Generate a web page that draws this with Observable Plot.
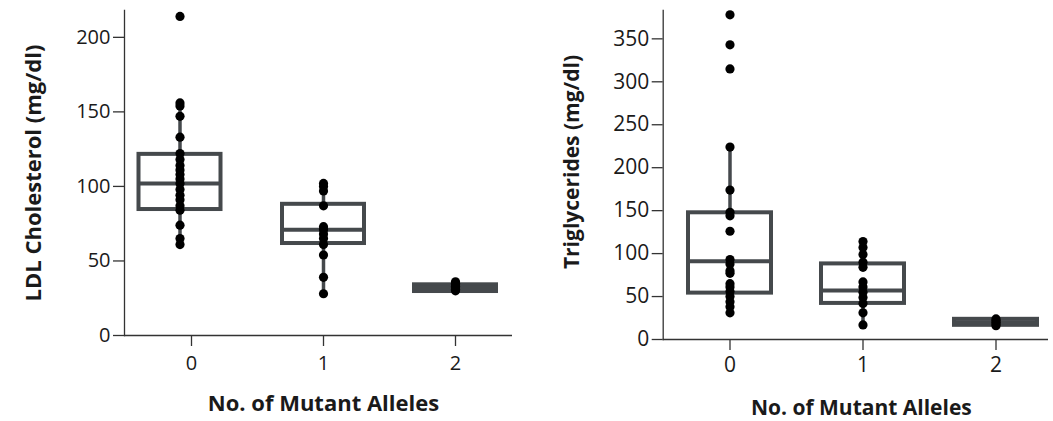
<!DOCTYPE html>
<html><head><meta charset="utf-8">
<script src="https://cdn.jsdelivr.net/npm/d3@7"></script>
<script src="https://cdn.jsdelivr.net/npm/@observablehq/plot@0.6"></script>
<style>
body{margin:0;background:#fff;overflow:hidden;}
#wrap{position:relative;width:1053px;height:421px;overflow:hidden;background:#fff;}
#a{position:absolute;left:0;top:0;}
#b{position:absolute;left:540px;top:0;}
</style></head><body><div id="wrap"><div id="a"></div><div id="b"></div></div>
<script>
// Categories
const alleles = ["0", "1", "2"];

// LDL cholesterol (mg/dl) individual values per group
const ldl0 = [214, 156, 154, 147, 133, 122, 118, 114, 111, 108, 105, 102, 98, 94, 91, 87, 84, 74, 65, 61];
const ldl1 = [102, 100, 97, 87, 73, 71, 68, 65, 61, 54, 39, 28];
const ldl2 = [30, 31, 32, 33, 34, 35, 36];
// LDL box statistics per group
const ldlQ1 = [84.5, 61.7, 29.5];
const ldlMedian = [102, 71, 32];
const ldlQ3 = [121.5, 88, 34];
const ldlWhiskerLo = [61, 28, null];
const ldlWhiskerHi = [156, 102, null];
const ldlTicks = [0, 50, 100, 150, 200];

// Triglycerides (mg/dl) individual values per group
const tg0 = [378, 343, 315, 224, 174, 148, 144, 126, 93, 88, 80, 77, 65, 61, 56, 50, 44, 38, 31];
const tg1 = [114, 107, 99, 90, 84, 67, 61, 55, 49, 42, 31, 17];
const tg2 = [16, 18, 20, 22, 24];
const tgQ1 = [54, 42, 16.5];
const tgMedian = [91, 57, 20];
const tgQ3 = [147.5, 88, 23.5];
const tgWhiskerLo = [31, 17, null];
const tgWhiskerHi = [224, 114, null];
const tgTicks = [0, 50, 100, 150, 200, 250, 300, 350];

const xLabel = "No. of Mutant Alleles";
const ldlLabel = "LDL Cholesterol (mg/dl)";
const tgLabel = "Triglycerides (mg/dl)";

const BOX = "#45494c";
const INK = "#1a1a1a";
const FONT = "'Open Sans', Lato, sans-serif";

function table(groups, q1, med, q3, lo, hi) {
  const pts = alleles.flatMap((g, i) => groups[i].map(v => ({g, v})));
  const boxes = alleles.map((g, i) => ({g, q1: q1[i], med: med[i], q3: q3[i], lo: lo[i], hi: hi[i]}));
  return {pts, boxes};
}

function groupMarks(pts, boxes, inset, dx) {
  const wh = boxes.filter(d => d.lo != null);
  return [
    Plot.ruleX(wh, {x: "g", y1: "lo", y2: "hi", stroke: BOX, strokeWidth: 3.5, dx}),
    Plot.barY(boxes, {x: "g", y1: "q1", y2: "q3", fill: "white", stroke: BOX, strokeWidth: 4, insetLeft: inset, insetRight: inset, dx}),
    Plot.tickY(boxes, {x: "g", y: "med", stroke: BOX, strokeWidth: 4, insetLeft: inset, insetRight: inset, dx}),
    Plot.dot(pts, {x: "g", y: "v", r: 4.6, fill: "black", stroke: "none", dx})
  ];
}

function panel(opts) {
  const {pts, boxes} = opts.data;
  const shifted = opts.shiftGroup;
  const inA = d => d.g === shifted;
  const inB = d => d.g !== shifted;
  return Plot.plot({
    width: opts.width,
    height: 421,
    marginTop: opts.marginTop,
    marginBottom: opts.marginBottom,
    marginLeft: opts.marginLeft,
    marginRight: 0,
    style: {fontFamily: FONT, color: INK, background: "white"},
    x: {domain: alleles, range: opts.xRange, padding: 0},
    y: {domain: opts.yDomain},
    marks: [
      Plot.frame({anchor: "left", stroke: "#333", strokeWidth: 1.3}),
      Plot.ruleY([0], {stroke: "#333", strokeWidth: 1.3}),
      Plot.axisX({tickSize: 11, tickFormat: () => "", label: null, stroke: "#333", strokeWidth: 1.3}),
      Plot.axisY({ticks: opts.ticks, tickSize: 11, tickFormat: () => "", label: null, stroke: "#333", strokeWidth: 1.3}),
      Plot.text(opts.ticks, {y: d => d, frameAnchor: "left", textAnchor: "end", dx: -14, fontSize: opts.tickSize, fill: INK}),
      Plot.text(alleles, {x: d => d, frameAnchor: "bottom", lineAnchor: "top", dy: opts.xTickDy, fontSize: opts.tickSize, fill: INK}),
      ...groupMarks(pts.filter(inB), boxes.filter(inB), opts.inset, 0),
      ...groupMarks(pts.filter(inA), boxes.filter(inA), opts.inset, opts.shift),
      Plot.text([opts.yLabel], {frameAnchor: "left", textAnchor: "middle", rotate: -90, dx: opts.yLabelDx, dy: opts.yLabelDy, fontSize: opts.labelSize, fontWeight: "bold", fill: INK}),
      Plot.text([xLabel], {frameAnchor: "bottom", textAnchor: "middle", dx: opts.xLabelDx, dy: opts.xLabelDy, fontSize: opts.labelSize, fontWeight: "bold", fill: INK})
    ]
  });
}

const left = panel({
  data: table([ldl0, ldl1, ldl2], ldlQ1, ldlMedian, ldlQ3, ldlWhiskerLo, ldlWhiskerHi),
  width: 512, marginTop: 10, marginBottom: 86, marginLeft: 124,
  xRange: [124, 521.5], yDomain: [0, 218], ticks: ldlTicks, inset: 25,
  shiftGroup: "0", shift: -11.5, labelSize: 22, tickSize: 20, xTickDy: 20,
  yLabel: ldlLabel, yLabelDx: -91, yLabelDy: 0, xLabelDx: 5, xLabelDy: 75
});
const right = panel({
  data: table([tg0, tg1, tg2], tgQ1, tgMedian, tgQ3, tgWhiskerLo, tgWhiskerHi),
  width: 508, marginTop: 10, marginBottom: 82, marginLeft: 122.7,
  xRange: [122.7, 521.7], yDomain: [0, 383], ticks: tgTicks, inset: 25,
  shiftGroup: null, shift: 0, labelSize: 21, tickSize: 21, xTickDy: 18,
  yLabel: tgLabel, yLabelDx: -91, yLabelDy: -13, xLabelDx: 5.5, xLabelDy: 75
});
document.getElementById("a").appendChild(left);
document.getElementById("b").appendChild(right);
</script></body></html>
